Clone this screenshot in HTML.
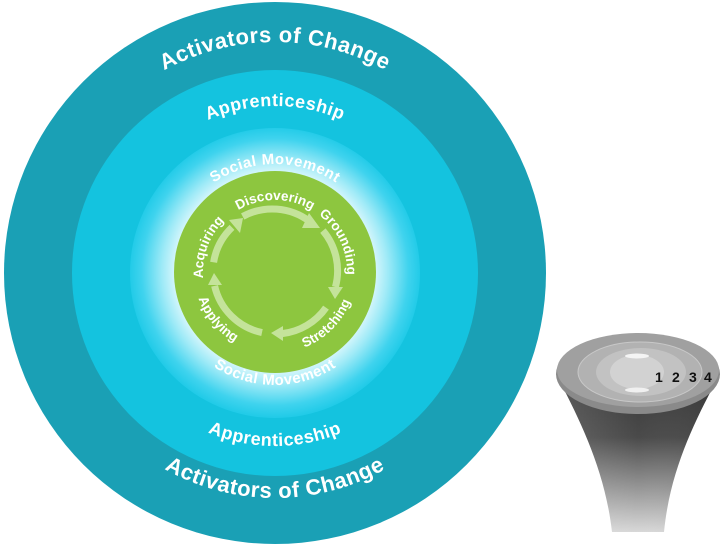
<!DOCTYPE html>
<html><head><meta charset="utf-8"><style>
html,body{margin:0;padding:0;background:#fff;width:721px;height:545px;overflow:hidden}
svg{display:block}
text{font-family:"Liberation Sans","DejaVu Sans",sans-serif;font-weight:bold;fill:#fff}
</style></head><body>
<svg width="721" height="545" viewBox="0 0 721 545" xmlns="http://www.w3.org/2000/svg">
<defs>
<radialGradient id="soc" cx="275" cy="272" r="145" gradientUnits="userSpaceOnUse">
<stop offset="0.62" stop-color="#ffffff"/><stop offset="0.78" stop-color="#9eeaf7"/><stop offset="0.92" stop-color="#3fd3ee"/><stop offset="1" stop-color="#22cbe8"/>
</radialGradient>
<linearGradient id="fun" x1="0" y1="0" x2="0" y2="1">
<stop offset="0" stop-color="#383838"/><stop offset="0.4" stop-color="#4a4a4a"/><stop offset="1" stop-color="#d8d8d8"/>
</linearGradient>
<linearGradient id="funh" x1="0" y1="0" x2="1" y2="0">
<stop offset="0" stop-color="#fff" stop-opacity="0.15"/><stop offset="0.5" stop-color="#fff" stop-opacity="0"/><stop offset="1" stop-color="#000" stop-opacity="0.1"/>
</linearGradient>
<path id="oT" d="M44,273 A231,231 0 0 1 506,273"/>
<path id="oB" d="M50,273 A225,225 0 0 0 500,273"/>
<path id="aT" d="M108,273 A167,167 0 0 1 442,273"/>
<path id="aB" d="M102,273 A173,173 0 0 0 448,273"/>
<path id="sT" d="M166,273 A109,109 0 0 1 384,273"/>
<path id="sB" d="M163,273 A112,112 0 0 0 387,273"/>
<path id="cw" d="M275,344 A72,72 0 1 1 275,200 A72,72 0 1 1 275,344"/>
<path id="ccw" d="M275,191 A81,81 0 1 0 275,353 A81,81 0 1 0 275,191"/>
</defs>
<circle cx="275" cy="273" r="271" fill="#1aa0b5"/>
<circle cx="275" cy="273" r="203" fill="#14c3df"/>
<circle cx="275" cy="273" r="145" fill="url(#soc)"/>
<circle cx="275" cy="272" r="101" fill="#8dc63f"/>
<g font-size="22" letter-spacing="0.5"><text><textPath href="#oT" startOffset="50%" text-anchor="middle">Activators of Change</textPath></text>
<text><textPath href="#oB" startOffset="50%" text-anchor="middle">Activators of Change</textPath></text></g>
<g font-size="18" letter-spacing="0.5"><text><textPath href="#aT" startOffset="50%" text-anchor="middle">Apprenticeship</textPath></text>
<text><textPath href="#aB" startOffset="50%" text-anchor="middle">Apprenticeship</textPath></text></g>
<g font-size="15" letter-spacing="0.5"><text><textPath href="#sT" startOffset="50%" text-anchor="middle">Social Movement</textPath></text>
<text><textPath href="#sB" startOffset="50%" text-anchor="middle">Social Movement</textPath></text></g>
<g font-size="13.5">
<text><textPath href="#cw" startOffset="30.6%" text-anchor="middle">Acquiring</textPath></text>
<text><textPath href="#cw" startOffset="50%" text-anchor="middle">Discovering</textPath></text>
<text><textPath href="#cw" startOffset="68%" text-anchor="middle">Grounding</textPath></text>
<text><textPath href="#ccw" startOffset="36%" text-anchor="middle">Applying</textPath></text>
<text><textPath href="#ccw" startOffset="62.5%" text-anchor="middle">Stretching</textPath></text>
</g>
<g fill="none" stroke="#c4e39a" stroke-width="7">
<path d="M242.7,216.5 A62,62 0 0 1 309.8,221.6"/>
<path d="M322.9,230.6 A62,62 0 0 1 335.4,287.0"/>
<path d="M326.0,307.6 A62,62 0 0 1 282.0,333.6"/>
<path d="M262.0,332.6 A62,62 0 0 1 214.6,285.9"/>
<path d="M213.6,262.3 A62,62 0 0 1 232.0,227.4"/>
</g>
<g fill="#c4e39a">
<polygon points="309,213 320,228 302,228"/>
<polygon points="328,287 343,287 335,299"/>
<polygon points="283,326 283,341 271,333"/>
<polygon points="208,285 222,285 214,273"/>
<polygon points="229,220 240,233 243,218"/>
</g>
<path d="M556,374 C580,420 605,470 612,532 L664,532 C670,470 695,420 720,374 Z" fill="url(#fun)"/>
<path d="M556,374 C580,420 605,470 612,532 L664,532 C670,470 695,420 720,374 Z" fill="url(#funh)"/>
<ellipse cx="638" cy="374" rx="82" ry="40" fill="#8a8a8a"/>
<ellipse cx="638" cy="370" rx="81" ry="37" fill="#a0a0a0"/>
<ellipse cx="640" cy="372" rx="62" ry="30" fill="#b2b2b2" stroke="#c8c8c8"/>
<ellipse cx="641" cy="372" rx="45" ry="24" fill="#c2c2c2"/>
<ellipse cx="637" cy="372" rx="27" ry="17" fill="#d2d2d2"/>
<ellipse cx="637" cy="356" rx="12" ry="2.5" fill="#f4f4f4"/>
<ellipse cx="637" cy="390" rx="12" ry="2.5" fill="#f0f0f0"/>
<g font-size="14"><text x="655" y="382" style="fill:#111">1</text><text x="672" y="382" style="fill:#111">2</text><text x="689" y="382" style="fill:#111">3</text><text x="704" y="382" style="fill:#111">4</text></g>
</svg>
</body></html>
